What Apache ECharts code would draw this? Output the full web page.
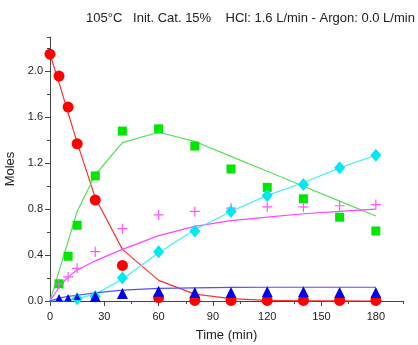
<!DOCTYPE html>
<html>
<head>
<meta charset="utf-8">
<script src="https://cdn.jsdelivr.net/npm/echarts@6/dist/echarts.min.js"></script>
<style>
  html, body { margin: 0; padding: 0; background: #fff; }
  #chart { width: 418px; height: 345px; }
</style>
</head>
<body>
<div id="chart"></div>
<script>
// sampling times (min)
const times = [0, 5, 10, 15, 25, 40, 60, 80, 100, 120, 140, 160, 180];

// measured values (moles)
const redObs = [2.15, 1.96, 1.69, 1.37, 0.88, 0.31, 0.03, 0.005, 0.005, 0.005, 0.005, 0.005, 0.005];
const greenObs = [null, 0.15, 0.39, 0.66, 1.09, 1.48, 1.50, 1.35, 1.15, 0.99, 0.89, 0.73, 0.61];
const pinkObs = [null, 0.15, 0.21, 0.285, 0.43, 0.63, 0.75, 0.78, 0.81, 0.82, 0.82, 0.83, 0.84];
const cyanObs = [null, null, null, 0.02, 0.04, 0.20, 0.43, 0.61, 0.78, 0.92, 1.015, 1.16, 1.27];
const blueObs = [null, 0.03, 0.03, 0.04, 0.04, 0.065, 0.085, 0.075, 0.075, 0.08, 0.08, 0.075, 0.075];

// model curves (moles)
const redFit = [2.15, 1.9, 1.64, 1.38, 0.9, 0.45, 0.18, 0.06, 0.02, 0.006, 0.002, 0.001, 0];
const greenFit = [0, 0.26, 0.52, 0.78, 1.10, 1.38, 1.47, 1.39, 1.26, 1.13, 1.0, 0.87, 0.74];
const pinkFit = [0, 0.12, 0.21, 0.27, 0.35, 0.45, 0.57, 0.65, 0.70, 0.73, 0.76, 0.78, 0.80];
const cyanFit = [0, 0.005, 0.01, 0.02, 0.06, 0.19, 0.42, 0.62, 0.78, 0.92, 1.03, 1.16, 1.27];
const blueFit = [0, 0.025, 0.04, 0.05, 0.07, 0.095, 0.11, 0.115, 0.118, 0.12, 0.12, 0.12, 0.12];

const xMajor = [0, 30, 60, 90, 120, 150, 180];
const yMajor = [0, 0.4, 0.8, 1.2, 1.6, 2.0];

const pair = arr => times.map((t, i) => [t, arr[i]]).filter(p => p[1] !== null);
const plus = 'path://M4.4,0h1.2v4.4h4.4v1.2h-4.4v4.4h-1.2v-4.4h-4.4v-1.2h4.4z';
const font = 'Liberation Sans, Arial, sans-serif';

function fit(data, color) {
  return {
    type: 'line', data: pair(data), showSymbol: false, silent: true,
    lineStyle: { color: color, width: 1.2 }, z: 2
  };
}
function obs(data, color, symbol, size) {
  return {
    type: 'scatter', data: pair(data), symbol: symbol, symbolSize: size,
    itemStyle: { color: color, opacity: 1 }, z: 3
  };
}

const chart = echarts.init(document.getElementById('chart'));

const axisLine = { show: true, lineStyle: { color: '#444', width: 1 } };

chart.setOption({
  animation: false,
  title: {
    text: '105°C   Init. Cat. 15%    HCl: 1.6 L/min - Argon: 0.0 L/min',
    left: 81, top: 7,
    textStyle: { fontSize: 13, fontWeight: 'normal', color: '#222', fontFamily: font }
  },
  grid: { left: 50, right: 15, top: 37, bottom: 44, outerBoundsMode: 'none', containLabel: false },
  xAxis: [{
    type: 'value', min: 0, max: 195, interval: 15,
    name: 'Time (min)', nameLocation: 'middle', nameGap: 28,
    nameTextStyle: { fontSize: 13, color: '#222', fontFamily: font },
    axisLine: axisLine,
    axisTick: { length: 3, lineStyle: { color: '#444' } },
    axisLabel: {
      fontSize: 11, color: '#222', fontFamily: font, margin: 10,
      formatter: v => (v % 30 === 0 ? String(v) : '')
    },
    splitLine: { show: false }
  }, {
    type: 'value', min: 0, max: 195, interval: 30, position: 'bottom',
    axisLine: { show: false },
    axisTick: { length: 5, customValues: xMajor, lineStyle: { color: '#444' } },
    axisLabel: { show: false },
    splitLine: { show: false }
  }],
  yAxis: [{
    type: 'value', min: 0, max: 2.3, interval: 0.2,
    name: 'Moles', nameLocation: 'middle', nameGap: 27,
    nameTextStyle: { fontSize: 13, color: '#222', fontFamily: font },
    axisLine: axisLine,
    axisTick: { length: 3, lineStyle: { color: '#444' } },
    axisLabel: {
      fontSize: 11, color: '#222', fontFamily: font, margin: 7,
      formatter: v => {
        const k = Math.round(v * 10);
        return (k % 4 === 0 && v < 2.25) ? v.toFixed(1) : '';
      }
    },
    splitLine: { show: false }
  }, {
    type: 'value', min: 0, max: 2.3, interval: 0.4, position: 'left',
    axisLine: { show: false },
    axisTick: { length: 5, customValues: yMajor, lineStyle: { color: '#444' } },
    axisLabel: { show: false },
    splitLine: { show: false }
  }],
  series: [
    fit(redFit, '#ff3030'),
    fit(greenFit, '#55e055'),
    fit(pinkFit, '#ff44ff'),
    fit(cyanFit, '#44eef6'),
    fit(blueFit, '#5050ff'),
    obs(redObs, '#ff0000', 'circle', 11),
    obs(greenObs, '#00e600', 'rect', 9),
    obs(pinkObs, '#ff55ff', plus, 10),
    obs(cyanObs, '#00e8f0', 'diamond', [11, 13]),
    obs(blueObs, '#0000ee', 'triangle', (v, p) => (p.dataIndex < 3 ? 7 : 11))
  ]
});
</script>
</body>
</html>
